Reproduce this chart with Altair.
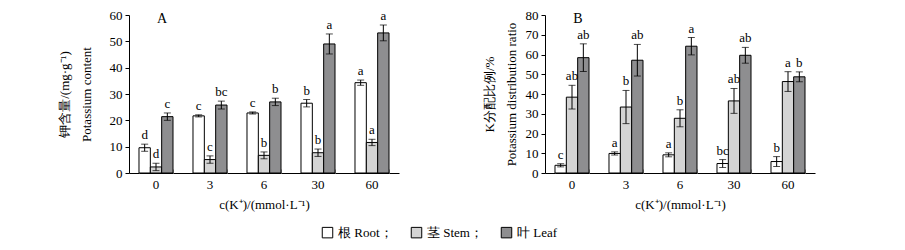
import altair as alt
import pandas as pd

conc = ["0", "3", "6", "30", "60"]
parts = ["根 Root；", "茎 Stem；", "叶 Leaf"]
colors = ["#ffffff", "#d4d4d4", "#8e8e90"]

# Panel A: potassium content (mg/g)
a_root = [9.6, 21.7, 22.8, 26.5, 34.3]
a_root_err = [1.35, 0.4, 0.4, 1.4, 1.0]
a_stem = [2.3, 5.1, 6.7, 7.7, 11.6]
a_stem_err = [1.4, 1.4, 1.3, 1.4, 1.2]
a_leaf = [21.4, 25.8, 27.0, 49.0, 53.2]
a_leaf_err = [1.4, 1.5, 1.4, 3.8, 3.0]
a_root_let = ["d", "c", "c", "b", "a"]
a_stem_let = ["d", "c", "b", "b", "a"]
a_leaf_let = ["c", "bc", "b", "a", "a"]

# Panel B: potassium distribution ratio (%)
b_root = [3.9, 9.9, 9.2, 4.8, 5.8]
b_root_err = [0.8, 0.8, 1.0, 2.0, 2.5]
b_stem = [38.4, 33.4, 27.7, 36.5, 46.3]
b_stem_err = [6.0, 8.4, 4.3, 6.3, 5.0]
b_leaf = [58.4, 57.1, 64.2, 59.6, 48.7]
b_leaf_err = [7.0, 8.0, 4.4, 4.0, 2.5]
b_root_let = ["c", "a", "a", "bc", "b"]
b_stem_let = ["ab", "b", "b", "ab", "a"]
b_leaf_let = ["ab", "ab", "a", "ab", "b"]

SERIF = "Liberation Serif"
W, H = 270, 158


def build_df(vals, errs, lets):
    rows = []
    for p, v, e, l in zip(parts, vals, errs, lets):
        for c, vv, ee, ll in zip(conc, v, e, l):
            rows.append({"conc": c, "part": p, "value": vv, "lo": vv - ee,
                         "hi": vv + ee, "letter": ll})
    return pd.DataFrame(rows)


def panel(df, ymax, ytitle, tag, title_pad):
    xscale = alt.Scale(domain=conc, paddingInner=0.37, paddingOuter=0.185)
    xo = alt.XOffset("part:N", sort=parts, scale=alt.Scale(domain=parts, paddingInner=0, paddingOuter=0))
    yscale = alt.Scale(domain=[0, ymax], nice=False)
    yaxis = alt.Axis(title=ytitle, values=list(range(0, ymax + 1, 10)), tickSize=4,
                     labelPadding=3, titlePadding=title_pad, titleLineHeight=22,
                     grid=False, labelOverlap=False)
    xaxis = alt.Axis(title="c(K⁺)/(mmol·L⁻¹)", labelAngle=0, ticks=False,
                     labelPadding=5, titlePadding=7, grid=False)
    tickaxis = alt.Axis(orient="top", offset=-H, labels=False, domain=False,
                        title=None, ticks=True, tickBand="extent", tickSize=4,
                        tickColor="#999999", grid=False)
    base = alt.Chart(df)
    bars = base.mark_bar(stroke="black", strokeWidth=1).encode(
        x=alt.X("conc:N", sort=conc, scale=xscale, axis=xaxis),
        xOffset=xo,
        y=alt.Y("value:Q", scale=yscale, axis=yaxis),
        color=alt.Color("part:N", sort=parts,
                        scale=alt.Scale(domain=parts, range=colors),
                        legend=alt.Legend(title=None, orient="none", direction="horizontal",
                                          legendX=192, legendY=211,
                                          symbolType="square", symbolSize=110,
                                          symbolStrokeColor="black", symbolStrokeWidth=1,
                                          labelFont=SERIF, labelFontSize=13, labelColor="black",
                                          columnPadding=16, labelOffset=4)),
    )
    rule = base.mark_rule(color="black", strokeWidth=1).encode(
        x=alt.X("conc:N", sort=conc, scale=xscale, axis=tickaxis),
        xOffset=xo,
        y=alt.Y("lo:Q", scale=yscale, axis=yaxis), y2="hi:Q",
    )
    cap_hi = base.mark_tick(color="black", thickness=1, size=7).encode(
        x=alt.X("conc:N", sort=conc, scale=xscale, axis=None), xOffset=xo,
        y=alt.Y("hi:Q", scale=yscale, axis=yaxis))
    cap_lo = base.mark_tick(color="black", thickness=1, size=7).encode(
        x=alt.X("conc:N", sort=conc, scale=xscale, axis=None), xOffset=xo,
        y=alt.Y("lo:Q", scale=yscale, axis=yaxis))
    letters = base.mark_text(baseline="bottom", dy=-2, font=SERIF, fontSize=13,
                             fill="black").encode(
        x=alt.X("conc:N", sort=conc, scale=xscale, axis=None), xOffset=xo,
        y=alt.Y("hi:Q", scale=yscale, axis=yaxis), text="letter:N")
    lab = alt.Chart(pd.DataFrame({"t": [tag]})).mark_text(
        font=SERIF, fontSize=14, fill="black").encode(
        x=alt.value(33), y=alt.value(4), text="t:N")
    return alt.layer(bars, rule, cap_hi, cap_lo, letters, lab).resolve_axis(
        x="independent").properties(width=W, height=H)


pa = panel(build_df([a_root, a_stem, a_leaf], [a_root_err, a_stem_err, a_leaf_err],
                    [a_root_let, a_stem_let, a_leaf_let]),
           60, ["钾含量/(mg·g⁻¹)", "Potassium content"], "A", 16)
pb = panel(build_df([b_root, b_stem, b_leaf], [b_root_err, b_stem_err, b_leaf_err],
                    [b_root_let, b_stem_let, b_leaf_let]),
           80, ["K分配比例/%", "Potassium distribution ratio"], "B", 7)

chart = alt.hconcat(pa, pb, spacing=82).properties(
    padding={"left": 49, "top": 0, "right": 5, "bottom": 0}
).configure_view(stroke="transparent").configure_axis(
    labelFont=SERIF, labelFontSize=13, labelColor="black",
    titleFont=SERIF, titleFontSize=13, titleFontWeight="normal", titleColor="black",
    domainColor="black", tickColor="black",
).configure_text(font=SERIF)

chart.save("out.html", embed_options={"renderer": "svg", "actions": False})
